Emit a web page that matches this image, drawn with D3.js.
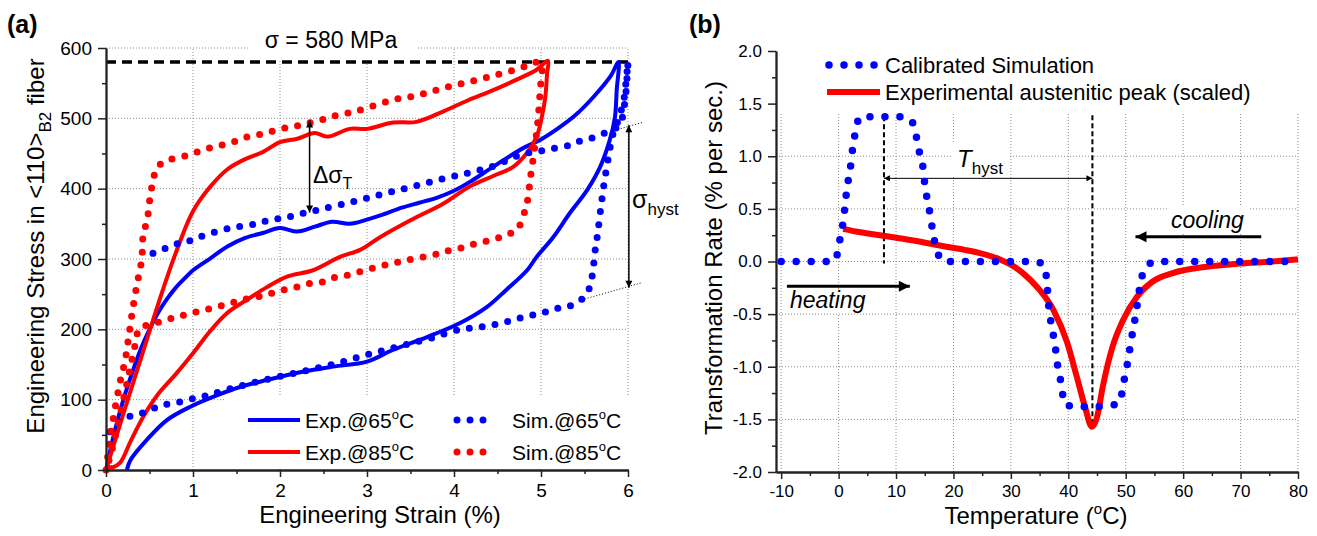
<!DOCTYPE html>
<html>
<head>
<meta charset="utf-8">
<script src="https://cdn.jsdelivr.net/npm/d3@7"></script>
<style>
  body { margin: 0; background: #fff; }
  svg { font-family: "Liberation Sans", Arial, sans-serif; }
</style>
</head>
<body>
<svg id="chart" width="1317" height="536"></svg>
<script>
// ---------- panel (a): [strain %, stress MPa] ----------
const exp65 = [[0,0],[0.1,55],[0.2,100],[0.3,138],[0.4,172],[0.5,200],[0.6,224],[0.7,243],[0.8,259],[0.9,272],[1.0,284],
  [1.2,301],[1.4,318],[1.6,330],[1.8,337],[2.0,344],[2.2,339],[2.4,346],[2.6,353],[2.8,350],[3.0,356],[3.2,364],[3.4,373],
  [3.6,380],[3.8,387],[4.0,397],[4.2,411],[4.4,427],[4.6,443],[4.8,458],[5.0,470],[5.2,486],[5.4,505],[5.6,530],[5.8,560],[5.89,580],
  [5.87,540],[5.85,502],[5.79,469],[5.68,431],[5.53,398],[5.33,365],[5.14,331],[4.95,303],[4.84,284],[4.6,256],[4.38,232],
  [4.07,209],[3.69,189],[3.3,171],[3.0,154],[2.61,147],[2.23,139],[1.85,128],[1.54,118],[1.23,104],[0.97,90],[0.7,71],
  [0.47,43],[0.28,14],[0.24,0]];
const exp85 = [[0,0],[0.2,80],[0.4,158],[0.6,236],[0.8,308],[1.0,368],[1.2,403],[1.4,428],[1.6,442],[1.8,452],[2.0,466],
  [2.2,471],[2.4,479],[2.55,474],[2.8,485],[3.0,485],[3.3,494],[3.57,495],[3.88,510],[4.15,525],[4.45,540],[4.72,555],
  [4.95,569],[5.08,582],[5.07,564],[5.05,531],[5.01,502],[4.95,474],[4.84,451],[4.68,431],[4.45,418],[4.18,403],[3.88,379],
  [3.5,355],[3.15,331],[2.92,313],[2.69,303],[2.38,284],[2.08,275],[1.85,260],[1.62,242],[1.39,223],[1.2,198],[1.0,166],
  [0.8,136],[0.6,108],[0.43,76],[0.28,40],[0.16,10],[0.08,4],[0.0,5]];
const sim65 = [[0.54,308],[0.68,315],[0.83,322],[0.99,327],[1.14,334],[1.43,344],[1.73,350],[1.89,356],[2.04,358],[2.19,363],
  [2.34,367],[2.92,384],[3.23,394],[3.53,403],[3.84,413],[4.15,422],[4.45,432],[4.76,448],[5.05,455],[5.33,462],[5.48,469],
  [5.64,474],[5.79,483],[5.9,490],[5.96,520],[5.99,560],[6.0,580],[5.98,555],[5.95,525],[5.88,495],[5.83,479],[5.77,441],
  [5.72,403],[5.68,365],[5.65,335],[5.62,310],[5.59,277],[5.54,254],[5.45,241],[5.3,232],[5.15,229],[5.01,223],[4.85,219],
  [4.7,214],[4.55,209],[4.39,205],[4.24,202],[4.07,200],[3.75,188],[3.5,180],[3.25,172],[3.0,164],[2.75,155],[2.5,147],
  [2.25,140],[2.0,133],[1.75,126],[1.5,118],[1.25,109],[1.1,104],[0.95,100],[0.79,95],[0.64,92],[0.5,85],[0.35,78],
  [0.2,74],[0.08,60],[0.0,45]];
const sim85 = [[0.0,0],[0.05,47],[0.1,85],[0.16,124],[0.22,156],[0.26,189],[0.3,223],[0.35,260],[0.41,299],[0.43,337],
  [0.47,353],[0.51,391],[0.54,410],[0.58,429],[0.65,437],[0.72,441],[0.87,445],[1.02,451],[1.17,457],[1.33,462],[1.48,467],
  [1.63,474],[1.77,477],[1.92,482],[2.08,487],[2.23,490],[2.38,495],[2.54,500],[2.67,505],[2.84,509],[2.98,514],[3.29,526],
  [3.59,533],[3.88,543],[4.18,552],[4.49,562],[4.78,572],[4.91,579],[5.0,578],[4.99,540],[4.97,505],[4.95,480],[4.92,452],
  [4.88,417],[4.84,380],[4.8,363],[4.72,341],[4.59,334],[4.44,327],[4.28,323],[4.13,317],[3.97,313],[3.84,308],[3.69,304],
  [3.53,300],[3.38,296],[3.23,292],[3.07,287],[2.92,282],[2.78,277],[2.63,274],[2.48,267],[2.33,265],[2.19,260],[2.04,256],
  [1.89,251],[1.74,246],[1.57,242],[1.43,237],[1.28,232],[1.12,227],[0.97,223],[0.83,218],[0.68,213],[0.53,207],[0.39,202],
  [0.33,175],[0.27,140],[0.2,100],[0.12,55],[0.05,20],[0.0,0]];
const strainTicks = [0, 1, 2, 3, 4, 5, 6];
const stressTicks = [0, 100, 200, 300, 400, 500, 600];
const peakStress = 580;
const legendA = ["Exp.@65", "Exp.@85", "Sim.@65", "Sim.@85"];

// ---------- panel (b): [temperature °C, rate % per sec] ----------
const calibSim = [[-10,0],[-1.5,0],[-0.5,0.02],[-0.1,0.11],[0.3,0.23],[0.8,0.38],[1.1,0.52],[1.4,0.67],[1.8,0.81],[2.2,0.95],
  [2.5,1.10],[3.0,1.24],[3.6,1.37],[6.3,1.375],[8.8,1.375],[11.4,1.375],[13.0,1.31],[13.6,1.17],[14.1,1.03],[14.7,0.89],
  [15.0,0.74],[15.4,0.60],[15.9,0.46],[16.3,0.32],[16.8,0.17],[17.5,0.05],[18.5,0],[34.5,0],[35.9,-0.06],[36.3,-0.22],
  [36.5,-0.37],[36.8,-0.51],[37.2,-0.65],[37.7,-0.79],[38.0,-0.94],[38.5,-1.08],[38.9,-1.22],[39.4,-1.36],[41.8,-1.38],
  [44.4,-1.38],[47.0,-1.37],[49.0,-1.34],[49.5,-1.19],[50.0,-1.05],[50.5,-0.91],[50.9,-0.76],[51.4,-0.62],[51.8,-0.48],
  [52.2,-0.34],[52.6,-0.19],[53.7,-0.05],[55,0],[80,0]];
const expPeak = [[0.8,0.31],[3,0.285],[7.2,0.25],[13,0.2],[18.8,0.14],[22,0.11],[24.6,0.08],[28.1,0.02],[30,-0.03],
  [32.1,-0.11],[35,-0.27],[37.4,-0.46],[39.8,-0.77],[41.5,-1.1],[42.9,-1.38],[44.1,-1.57],[45.0,-1.48],[46.0,-1.19],
  [47.7,-0.81],[49.5,-0.56],[51.9,-0.34],[54.7,-0.19],[58.2,-0.11],[64.1,-0.05],[69.8,-0.02],[75.6,0.0],[80,0.02]];
const tempTicks = [-10, 0, 10, 20, 30, 40, 50, 60, 70, 80];
const rateTicks = [-2, -1.5, -1, -0.5, 0, 0.5, 1, 1.5, 2];
const thyst = [7.9, 44.2];

const BLUE = "#0000ff", RED = "#ff0000", GRID = "#8c8c8c";
const svg = d3.select("#chart");

// arrow heads
const defs = svg.append("defs");
function marker(id, w, h) {
  defs.append("marker").attr("id", id).attr("viewBox", "0 0 10 10")
    .attr("refX", 10).attr("refY", 5).attr("markerUnits", "userSpaceOnUse")
    .attr("markerWidth", w).attr("markerHeight", h).attr("orient", "auto-start-reverse")
    .append("path").attr("d", "M0,0L10,5L0,10z").attr("fill", "#000");
}
marker("arrA", 10, 7);
marker("arrThin", 9, 6);
marker("arrBig", 17, 11);

// text with tspans: parts = [text, size, dy, style]
function rich(parent, x, y, size, parts, anchor) {
  const t = parent.append("text").attr("x", x).attr("y", y)
    .attr("font-size", size).attr("text-anchor", anchor || "start").attr("fill", "#000");
  parts.forEach(p => {
    const s = t.append("tspan").text(p[0]);
    if (p[1]) s.attr("font-size", p[1]);
    if (p[2]) s.attr("dy", p[2]);
    if (p[3]) s.attr("font-style", p[3]);
  });
  return t;
}
function styleAxis(g, size) {
  g.selectAll("text").attr("font-size", size).attr("fill", "#000")
    .attr("font-family", "Liberation Sans, Arial, sans-serif");
  g.selectAll("line").attr("stroke", "#222").attr("stroke-width", 1.5);
  g.selectAll(".domain").attr("stroke", "#222").attr("stroke-width", 1.8);
}

// ================= panel (a) =================
const xA = d3.scaleLinear().domain([0, 6]).range([106, 628]);
const yA = d3.scaleLinear().domain([0, 600]).range([470, 48]);
const gA = svg.append("g");

gA.selectAll(".vgrid").data(strainTicks.slice(1)).enter().append("line")
  .attr("x1", d => xA(d)).attr("x2", d => xA(d)).attr("y1", yA(0)).attr("y2", yA(600))
  .attr("stroke", GRID).attr("stroke-dasharray", "1,2");
gA.selectAll(".hgrid").data(stressTicks.slice(1)).enter().append("line")
  .attr("x1", xA(0)).attr("x2", xA(6)).attr("y1", d => yA(d)).attr("y2", d => yA(d))
  .attr("stroke", GRID).attr("stroke-dasharray", "1,2");

// white boxes behind legend and label
gA.append("rect").attr("x", 225).attr("y", 397).attr("width", 404).attr("height", 71).attr("fill", "#fff");
gA.append("rect").attr("x", 248).attr("y", 22).attr("width", 170).attr("height", 37).attr("fill", "#fff");

// 580 MPa line
gA.append("line").attr("x1", xA(0)).attr("x2", xA(6)).attr("y1", yA(peakStress)).attr("y2", yA(peakStress))
  .attr("stroke", "#000").attr("stroke-width", 3.5).attr("stroke-dasharray", "10,6");

const lineA = d3.line().x(d => xA(d[0])).y(d => yA(d[1])).curve(d3.curveCatmullRom.alpha(0.5));
gA.append("path").attr("d", lineA(exp65)).attr("fill", "none").attr("stroke", BLUE).attr("stroke-width", 4);
gA.append("path").attr("d", lineA(exp85)).attr("fill", "none").attr("stroke", RED).attr("stroke-width", 4);
gA.append("path").attr("d", lineA(sim65)).attr("fill", "none").attr("stroke", BLUE).attr("stroke-width", 7)
  .attr("stroke-linecap", "round").attr("stroke-dasharray", "0,13");
gA.append("path").attr("d", lineA(sim85)).attr("fill", "none").attr("stroke", RED).attr("stroke-width", 7)
  .attr("stroke-linecap", "round").attr("stroke-dasharray", "0,13");

// annotation lines
gA.append("line").attr("x1", xA(5.85)).attr("y1", yA(483)).attr("x2", xA(6.16)).attr("y2", yA(494))
  .attr("stroke", "#000").attr("stroke-width", 1).attr("stroke-dasharray", "1,2");
gA.append("line").attr("x1", xA(5.47)).attr("y1", yA(242)).attr("x2", xA(6.15)).attr("y2", yA(266))
  .attr("stroke", "#000").attr("stroke-width", 1).attr("stroke-dasharray", "1,2");
gA.append("line").attr("x1", xA(2.34)).attr("x2", xA(2.34)).attr("y1", yA(497)).attr("y2", yA(366))
  .attr("stroke", "#000").attr("stroke-width", 1.5)
  .attr("marker-start", "url(#arrA)").attr("marker-end", "url(#arrA)");
gA.append("line").attr("x1", xA(6.01)).attr("x2", xA(6.01)).attr("y1", yA(490)).attr("y2", yA(259))
  .attr("stroke", "#000").attr("stroke-width", 1.5)
  .attr("marker-start", "url(#arrA)").attr("marker-end", "url(#arrA)");

rich(gA, 313, 183, 23, [["Δσ"], ["T", 16, 6]]);
rich(gA, 632, 208, 25, [["σ"], ["hyst", 17, 7]]);
rich(gA, 331, 48, 23, [["σ = 580 MPa"]], "middle");

// legend (a)
const legA = gA.append("g");
[[BLUE, 420, false, 248], [RED, 452, false, 248], [BLUE, 420, true, 457], [RED, 452, true, 457]]
  .forEach((r, i) => {
    const ln = legA.append("line").attr("x1", r[3]).attr("x2", r[2] ? r[3] + 39 : r[3] + 52)
      .attr("y1", r[1]).attr("y2", r[1]).attr("stroke", r[0]);
    if (r[2]) ln.attr("stroke-width", 7).attr("stroke-linecap", "round").attr("stroke-dasharray", "0,13");
    else ln.attr("stroke-width", 4);
    rich(legA, r[2] ? 512 : 305, r[1] + 8, 21, [[legendA[i]], ["o", 13, -9], ["C", 21, 9]]);
  });

// axes (a)
const axAx = gA.append("g").attr("transform", "translate(0,470)")
  .call(d3.axisBottom(xA).tickValues(strainTicks).tickSize(7).tickPadding(7).tickSizeOuter(0).tickFormat(d3.format("d")));
const axAxm = gA.append("g").attr("transform", "translate(0,470)")
  .call(d3.axisBottom(xA).tickValues(d3.range(0.5, 6, 1)).tickSize(4).tickFormat("").tickSizeOuter(0));
const axAy = gA.append("g").attr("transform", "translate(106,0)")
  .call(d3.axisLeft(yA).tickValues(stressTicks).tickSize(8).tickPadding(6).tickSizeOuter(0));
const axAym = gA.append("g").attr("transform", "translate(106,0)")
  .call(d3.axisLeft(yA).tickValues(d3.range(50, 600, 100)).tickSize(4).tickFormat("").tickSizeOuter(0));
[axAx, axAxm, axAy, axAym].forEach(g => styleAxis(g, 19));

rich(gA, 380, 523, 24, [["Engineering Strain (%)"]], "middle");
rich(gA, 0, 0, 24, [["Engineering Stress in <110>"], ["B2", 17, 7], [" fiber", 24, -7]], "middle")
  .attr("transform", "translate(44,246) rotate(-90)");
rich(gA, 7, 33, 25, [["(a)"]]).attr("font-weight", "bold");

// ================= panel (b) =================
const xB = d3.scaleLinear().domain([-10.9, 80]).range([776, 1298]);
const yB = d3.scaleLinear().domain([-2, 2]).range([472, 51]);
const gB = svg.append("g");

gB.selectAll(".vgrid").data(tempTicks).enter().append("line")
  .attr("x1", d => xB(d)).attr("x2", d => xB(d)).attr("y1", yB(-2)).attr("y2", yB(2))
  .attr("stroke", GRID).attr("stroke-dasharray", "1,2");
gB.selectAll(".hgrid").data(rateTicks.slice(1, -1)).enter().append("line")
  .attr("x1", xB(-10.9)).attr("x2", xB(80)).attr("y1", d => yB(d)).attr("y2", d => yB(d))
  .attr("stroke", GRID).attr("stroke-dasharray", "1,2");

// white boxes
gB.append("rect").attr("x", 777).attr("y", 40).attr("width", 523).attr("height", 72).attr("fill", "#fff");
gB.append("rect").attr("x", 952).attr("y", 144).attr("width", 57).attr("height", 32).attr("fill", "#fff");
gB.append("rect").attr("x", 1168).attr("y", 207).attr("width", 82).attr("height", 26).attr("fill", "#fff");
gB.append("rect").attr("x", 788).attr("y", 289).attr("width", 82).attr("height", 24).attr("fill", "#fff");

// dashed markers of T_hyst
gB.append("line").attr("x1", xB(thyst[0])).attr("x2", xB(thyst[0])).attr("y1", yB(1.38)).attr("y2", yB(-0.02))
  .attr("stroke", "#000").attr("stroke-width", 2).attr("stroke-dasharray", "5,3");
gB.append("line").attr("x1", xB(thyst[1])).attr("x2", xB(thyst[1])).attr("y1", yB(1.39)).attr("y2", yB(-1.53))
  .attr("stroke", "#000").attr("stroke-width", 2).attr("stroke-dasharray", "5,3");
gB.append("line").attr("x1", xB(thyst[0])).attr("x2", xB(thyst[1])).attr("y1", yB(0.79)).attr("y2", yB(0.79))
  .attr("stroke", "#000").attr("stroke-width", 1)
  .attr("marker-start", "url(#arrThin)").attr("marker-end", "url(#arrThin)");
rich(gB, 957, 167, 24, [["T", null, null, "italic"], ["hyst", 17, 7]]);

// heating / cooling arrows
gB.append("line").attr("x1", xB(-9)).attr("x2", xB(12.4)).attr("y1", yB(-0.235)).attr("y2", yB(-0.235))
  .attr("stroke", "#000").attr("stroke-width", 3).attr("marker-end", "url(#arrBig)");
gB.append("line").attr("x1", xB(73.6)).attr("x2", xB(51.7)).attr("y1", yB(0.235)).attr("y2", yB(0.235))
  .attr("stroke", "#000").attr("stroke-width", 3).attr("marker-end", "url(#arrBig)");
rich(gB, 790, 308, 23, [["heating"]]).attr("font-style", "italic");
rich(gB, 1171, 228, 23, [["cooling"]]).attr("font-style", "italic");

const lineB = d3.line().x(d => xB(d[0])).y(d => yB(d[1])).curve(d3.curveMonotoneX);
gB.append("path").attr("d", lineB(expPeak)).attr("fill", "none").attr("stroke", RED).attr("stroke-width", 6)
  .attr("stroke-linejoin", "round");
gB.append("path").attr("d", lineB(calibSim)).attr("fill", "none").attr("stroke", BLUE).attr("stroke-width", 7.5)
  .attr("stroke-linecap", "round").attr("stroke-dasharray", "0,15");

// legend (b)
gB.append("line").attr("x1", 829).attr("x2", 875).attr("y1", 65).attr("y2", 65).attr("stroke", BLUE)
  .attr("stroke-width", 7.5).attr("stroke-linecap", "round").attr("stroke-dasharray", "0,15");
gB.append("line").attr("x1", 827).attr("x2", 880).attr("y1", 92).attr("y2", 92).attr("stroke", RED)
  .attr("stroke-width", 6);
rich(gB, 885, 73, 22, [["Calibrated Simulation"]]);
rich(gB, 885, 100, 22, [["Experimental austenitic peak (scaled)"]]);

// axes (b)
const axBx = gB.append("g").attr("transform", "translate(0,472)")
  .call(d3.axisBottom(xB).tickValues(tempTicks).tickSize(7).tickPadding(6).tickSizeOuter(0));
const axBxm = gB.append("g").attr("transform", "translate(0,472)")
  .call(d3.axisBottom(xB).tickValues(d3.range(-5, 80, 10)).tickSize(4).tickFormat("").tickSizeOuter(0));
const axBy = gB.append("g").attr("transform", "translate(776,0)")
  .call(d3.axisLeft(yB).tickValues(rateTicks).tickSize(8).tickPadding(6).tickSizeOuter(0).tickFormat(d3.format(".1f")));
const axBym = gB.append("g").attr("transform", "translate(776,0)")
  .call(d3.axisLeft(yB).tickValues(d3.range(-1.75, 2, 0.5)).tickSize(4).tickFormat("").tickSizeOuter(0));
[axBx, axBxm, axBy, axBym].forEach(g => styleAxis(g, 17));
axBx.selectAll("text").text(d => d < 0 ? "-" + Math.abs(d) : d);
axBy.selectAll("text").text(d => (d < 0 ? "-" : "") + Math.abs(d).toFixed(1));

rich(gB, 1036, 524, 24, [["Temperature ("], ["o", 15, -10], ["C)", 24, 10]], "middle");
rich(gB, 0, 0, 24, [["Transformation Rate (% per sec.)"]], "middle")
  .attr("transform", "translate(722,258) rotate(-90)");
rich(gB, 689, 33, 25, [["(b)"]]).attr("font-weight", "bold");
</script>
</body>
</html>
